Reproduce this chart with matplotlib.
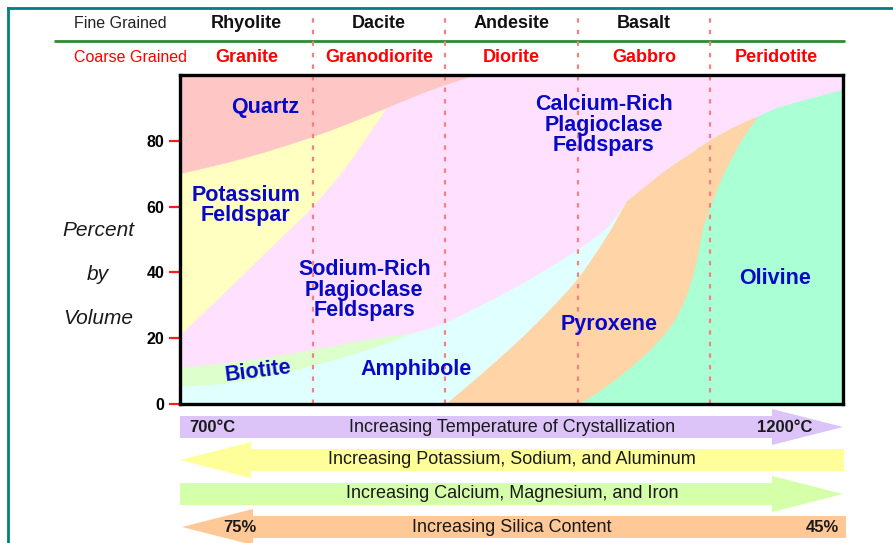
import matplotlib
matplotlib.use("Agg")
import matplotlib.pyplot as plt
from matplotlib.patches import Polygon, PathPatch
from matplotlib.path import Path

plt.rcParams['font.family'] = ['Liberation Sans', 'DejaVu Sans']

# ---------------- data ----------------
fine_grained = ["Rhyolite", "Dacite", "Andesite", "Basalt", ""]
coarse_grained = ["Granite", "Granodiorite", "Diorite", "Gabbro", "Peridotite"]
column_edges = [20, 40, 60, 80]
column_centers = [10, 30, 50, 70, 90]
y_ticks = [0, 20, 40, 60, 80]

# quartz lower boundary
quartz_x = [0, 5, 10, 15, 20, 25, 31.2, 35, 40, 44.7]
quartz_y = [70, 72.3, 74.9, 77.9, 81.2, 84.9, 90, 93.2, 97, 100]
# potassium feldspar lower boundary
kfeld_x = [0, 5, 10, 15, 20, 25, 31.2]
kfeld_y = [21, 30.5, 40.3, 50, 60, 72, 90]
# biotite upper boundary
biotite_x = [0, 5, 10, 15, 20, 25, 30, 35]
biotite_y = [11.0, 11.9, 13.1, 14.6, 16.4, 18.2, 20, 21.3]
# amphibole upper boundary
amph_x = [0, 5, 10, 15, 20, 25, 30, 35, 40, 45, 50, 55, 60, 64.4, 67.4]
amph_y = [5.3, 5.8, 7, 9, 11.5, 14.3, 17.5, 21.3, 24.5, 29.5, 34.7, 40.5, 46.8, 53.5, 61.5]
# pyroxene left boundary (against amphibole)
pyx_left_x = [40.2, 44.2, 48, 51.8, 56, 60.1, 64.4, 67.4]
pyx_left_y = [0, 6.8, 13.5, 20.5, 29, 38.2, 50.9, 61.5]
# pyroxene upper boundary (against plagioclase)
pyx_top_x = [67.4, 70.5, 73.4, 77, 80.1, 83.5, 87.2]
pyx_top_y = [61.5, 66.5, 71.1, 76, 80.2, 84, 87.3]
# olivine left boundary (against pyroxene)
oliv_left_x = [60.3, 64.4, 69.4, 71.9, 74.4, 76.4, 77.9, 78.9, 79.9, 81.9, 84.5, 87.2]
oliv_left_y = [0, 5.3, 13.4, 18.4, 24.5, 32.6, 42.8, 52.9, 59, 69.1, 79.2, 87.3]
# olivine upper boundary
oliv_top_x = [87.2, 90, 93.5, 97, 100]
oliv_top_y = [87.3, 89.8, 91.9, 93.8, 95.5]

mineral_labels = ["Quartz", "Potassium\nFeldspar", "Sodium-Rich\nPlagioclase\nFeldspars",
                  "Biotite", "Amphibole", "Calcium-Rich\nPlagioclase\nFeldspars",
                  "Pyroxene", "Olivine"]
label_pos = [(12.8, 90.0), (9.9, 60.3), (27.8, 34.6), (11.8, 10.0), (35.6, 10.6),
             (63.9, 84.8), (64.7, 24.3), (89.7, 38.1)]
label_rot = [0, 0, 0, 7, 0, 0, 0, 0]

arrow_texts = ["Increasing Temperature of Crystallization",
               "Increasing Potassium, Sodium, and Aluminum",
               "Increasing Calcium, Magnesium, and Iron",
               "Increasing Silica Content"]

# ---------------- colours ----------------
c_quartz = "#FFC6C6"
c_kfeld = "#FFFFC2"
c_plag = "#FFE1FF"
c_bio = "#DDFFCC"
c_amph = "#E0FFFF"
c_pyx = "#FFD5A8"
c_oliv = "#AAFFD4"
c_lab = "#0808C8"


def curve(xs, ys):
    """Smooth (Catmull-Rom -> cubic Bezier) path pieces through the given points."""
    pts = list(zip(xs, ys))
    verts, codes = [], []
    n = len(pts)
    for i in range(n - 1):
        p0 = pts[i - 1] if i > 0 else pts[i]
        p1 = pts[i]
        p2 = pts[i + 1]
        p3 = pts[i + 2] if i + 2 < n else pts[i + 1]
        c1 = (p1[0] + (p2[0] - p0[0]) / 6, p1[1] + (p2[1] - p0[1]) / 6)
        c2 = (p2[0] - (p3[0] - p1[0]) / 6, p2[1] - (p3[1] - p1[1]) / 6)
        verts += [c1, c2, p2]
        codes += [Path.CURVE4] * 3
    return pts[0], verts, codes


def region(ax, pieces, color, z=1):
    """pieces: list of ('curve', xs, ys) or ('line', x, y)."""
    verts, codes = [], []
    for pc in pieces:
        if pc[0] == 'curve':
            start, v, c = curve(pc[1], pc[2])
            if not verts:
                verts.append(start)
                codes.append(Path.MOVETO)
            else:
                verts.append(start)
                codes.append(Path.LINETO)
            verts += v
            codes += c
        else:
            if not verts:
                verts.append((pc[1], pc[2]))
                codes.append(Path.MOVETO)
            else:
                verts.append((pc[1], pc[2]))
                codes.append(Path.LINETO)
    verts.append(verts[0])
    codes.append(Path.CLOSEPOLY)
    ax.add_patch(PathPatch(Path(verts, codes), facecolor=color, edgecolor=color,
                           lw=0.3, zorder=z))


W, H = 893, 543
fig = plt.figure(figsize=(W / 100, H / 100), dpi=100)

# overlay (pixel coordinates)
ov = fig.add_axes([0, 0, 1, 1], zorder=0)
ov.set_xlim(0, W)
ov.set_ylim(H, 0)
ov.axis('off')

ax = fig.add_axes([180 / W, 1 - 404 / H, 663 / W, 329 / H], zorder=1)
ax.set_xlim(0, 100)
ax.set_ylim(0, 100)

region(ax, [('line', 0, 0), ('line', 100, 0), ('line', 100, 100), ('line', 0, 100)], c_plag)
region(ax, [('curve', kfeld_x, kfeld_y), ('line', kfeld_x[-1], 100), ('line', 0, 100)], c_kfeld)
region(ax, [('curve', quartz_x, quartz_y), ('line', 0, 100)], c_quartz)
region(ax, [('curve', biotite_x, biotite_y), ('line', biotite_x[-1], 0), ('line', 0, 0)], c_bio)
region(ax, [('curve', amph_x, amph_y), ('line', amph_x[-1], 0), ('line', 0, 0)], c_amph)
region(ax, [('curve', pyx_left_x, pyx_left_y), ('curve', pyx_top_x, pyx_top_y),
            ('line', 100, pyx_top_y[-1]), ('line', 100, 0)], c_pyx)
region(ax, [('curve', oliv_left_x, oliv_left_y), ('curve', oliv_top_x, oliv_top_y),
            ('line', 100, 0)], c_oliv)

# dashed column separators (extend into the header)
for xe in column_edges:
    ax.plot([xe, xe], [0, 119.0], color="#F48080", lw=1.6, ls=(0, (2, 3.2)),
            clip_on=False, zorder=3)

for txt, (x, y), r in zip(mineral_labels, label_pos, label_rot):
    ax.text(x, y, txt, ha='center', va='center', color=c_lab, fontsize=15.5,
            fontweight='bold', rotation=r, linespacing=0.95, zorder=5)

for s in ax.spines.values():
    s.set_linewidth(2.4)
    s.set_color('black')
    s.set_zorder(6)
ax.set_xticks([])
ax.set_yticks(y_ticks)
ax.set_yticklabels([str(v) for v in y_ticks], fontweight='bold')
ax.tick_params(axis='y', direction='out', length=8, width=1.6, color='#FF1A1A',
               labelsize=11.5, pad=3)

# y label
for txt, yy in zip(["Percent", "by", "Volume"], [230, 275, 318]):
    ov.text(98, yy, txt, ha='center', va='center', fontsize=15, style='italic',
            color='#1a1a1a')

# header
ov.text(120.5, 24, "Fine Grained", ha='center', va='center', fontsize=11.5, color='#222222')
ov.text(130, 58, "Coarse Grained", ha='center', va='center', fontsize=11.5, color='#FF0000')
for i, (f, c) in enumerate(zip(fine_grained, coarse_grained)):
    xc = 180 + column_centers[i] * 6.63
    if f:
        ov.text(xc, 24, f, ha='center', va='center', fontsize=13, fontweight='bold',
                color='#111111')
    ov.text(xc, 58, c, ha='center', va='center', fontsize=13, fontweight='bold',
            color='#FF0000')
ov.plot([54, 845], [41, 41], color='#2E8B2E', lw=2.0, solid_capstyle='butt')

# frame border
ov.plot([8, 8], [8, H + 5], color='#008080', lw=2.0)
ov.plot([8, W + 5], [8, 8], color='#008080', lw=2.0)


# arrows
def right_arrow(yc, color, x0=180, xb=772, xt=843, hb=11, hh=18):
    pts = [(x0, yc - hb), (xb, yc - hb), (xb, yc - hh), (xt, yc), (xb, yc + hh),
           (xb, yc + hb), (x0, yc + hb)]
    ov.add_patch(Polygon(pts, closed=True, facecolor=color, edgecolor='none'))


def left_arrow(yc, color, xt=180, xb=251, x1=844, hb=11, hh=18):
    pts = [(xt, yc), (xb, yc - hh), (xb, yc - hb), (x1, yc - hb), (x1, yc + hb),
           (xb, yc + hb), (xb, yc + hh)]
    ov.add_patch(Polygon(pts, closed=True, facecolor=color, edgecolor='none'))


right_arrow(427, "#DCC3F8")
left_arrow(460, "#FFFF99")
right_arrow(494, "#D6FFAA")
left_arrow(527, "#FFC896", xt=182, xb=253, x1=846)

ys = [427, 460, 494, 527]
for t, yy in zip(arrow_texts, ys):
    ov.text(512, yy, t, ha='center', va='center', fontsize=13, color='#1a1a1a')
ov.text(189, 428, "700°C", ha='left', va='center', fontsize=12, fontweight='bold', color='#1a1a1a')
ov.text(812, 428, "1200°C", ha='right', va='center', fontsize=12, fontweight='bold', color='#1a1a1a')
ov.text(240, 527, "75%", ha='center', va='center', fontsize=12, fontweight='bold', color='#1a1a1a')
ov.text(839, 527, "45%", ha='right', va='center', fontsize=12, fontweight='bold', color='#1a1a1a')

fig.savefig("out.png", dpi=100)
